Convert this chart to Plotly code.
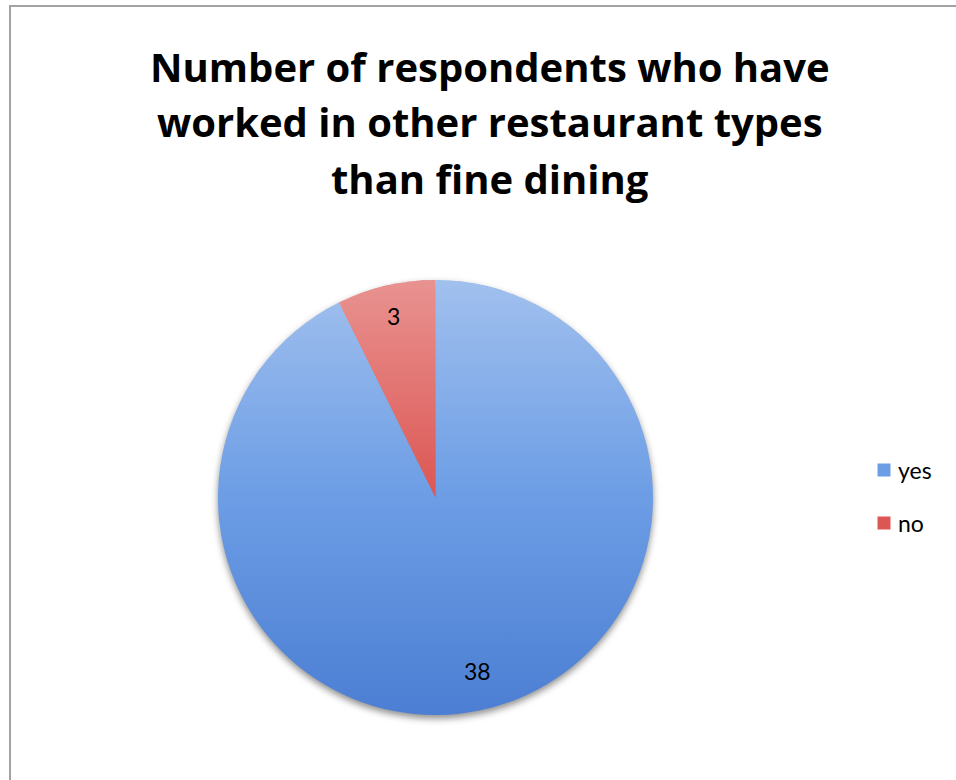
import base64
import math

import plotly.graph_objects as go

# ---- data -------------------------------------------------------------
TITLE_LINES = [
    "Number of respondents who have",
    "worked in other restaurant types",
    "than fine dining",
]
CATEGORIES = ["yes", "no"]
COUNTS = [38, 3]
SLICE_COLORS = ["#6c9de5", "#dc5653"]

# ---- page geometry (pixels) -------------------------------------------
W, H = 956, 780
PIE_CX, PIE_CY, PIE_R = 435.5, 497.5, 217.5
LABEL_R = 0.84          # data labels sit at this fraction of the radius
TEXT_LIFT = 4           # nudges annotation boxes so the glyphs sit on target
TITLE_X = 489.5
TITLE_BASELINES = [80.7, 136.0, 193.3]
TITLE_SIZE = 40
KEY_X, KEY_Y0, KEY_STEP, KEY_SIZE = 884, 470, 53, 13

TITLE_FONT = "'Open Sans', sans-serif"
FONT = "Lato, 'Open Sans', sans-serif"


def px_x(x):
    return x / W


def px_y(y):
    return 1 - y / H


def svg_uri(svg):
    return "data:image/svg+xml;base64," + base64.b64encode(svg.encode()).decode()


fig = go.Figure(
    go.Pie(
        labels=CATEGORIES,
        values=COUNTS,
        sort=False,
        direction="clockwise",
        rotation=0,
        marker=dict(colors=SLICE_COLORS, line=dict(width=0)),
        textinfo="none",
        hoverinfo="label+value",
        showlegend=False,
        domain=dict(
            x=[px_x(PIE_CX - PIE_R), px_x(PIE_CX + PIE_R)],
            y=[px_y(PIE_CY + PIE_R), px_y(PIE_CY - PIE_R)],
        ),
    )
)

annotations = []
shapes = []

# title, one line per annotation (Open Sans box centre ~0.39em above baseline)
for line, base in zip(TITLE_LINES, TITLE_BASELINES):
    cy = base - 0.388 * TITLE_SIZE + 1
    annotations.append(
        dict(
            x=px_x(TITLE_X), y=px_y(cy), xref="paper", yref="paper",
            xanchor="center", yanchor="middle", showarrow=False,
            text=f"<b>{line}</b>",
            font=dict(family=TITLE_FONT, size=TITLE_SIZE, color="#000000"),
        )
    )

# value labels placed on each slice's bisector
total = sum(COUNTS)
cum = 0
for v in COUNTS:
    mid = (cum + v / 2) / total * 2 * math.pi
    cum += v
    lx = PIE_CX + LABEL_R * PIE_R * math.sin(mid)
    ly = PIE_CY - LABEL_R * PIE_R * math.cos(mid) - TEXT_LIFT
    annotations.append(
        dict(
            x=px_x(lx), y=px_y(ly), xref="paper", yref="paper",
            xanchor="center", yanchor="middle", showarrow=False,
            text=str(v),
            font=dict(family=FONT, size=23, color="#000000"),
        )
    )

# legend: coloured key square plus category name
for i, (name, col) in enumerate(zip(CATEGORIES, SLICE_COLORS)):
    ky = KEY_Y0 + i * KEY_STEP
    shapes.append(
        dict(
            type="rect", xref="paper", yref="paper",
            x0=px_x(KEY_X - KEY_SIZE / 2), x1=px_x(KEY_X + KEY_SIZE / 2),
            y0=px_y(ky + KEY_SIZE / 2), y1=px_y(ky - KEY_SIZE / 2),
            fillcolor=col, line=dict(width=0),
        )
    )
    annotations.append(
        dict(
            x=px_x(KEY_X + 12), y=px_y(ky + 12 - 8.9 - TEXT_LIFT + 1),
            xref="paper", yref="paper",
            xanchor="left", yanchor="middle", showarrow=False,
            text=name,
            font=dict(family=FONT, size=23, color="#000000"),
        )
    )

# soft drop shadow under the pie and a vertical light-to-dark sheen over it
PAD = 20
side = 2 * PIE_R + 2 * PAD
shadow_svg = (
    f'<svg xmlns="http://www.w3.org/2000/svg" width="{side}" height="{side}" '
    f'viewBox="0 0 {side} {side}">'
    '<defs><filter id="b" x="-20%" y="-20%" width="140%" height="140%">'
    '<feGaussianBlur stdDeviation="3.5"/></filter></defs>'
    f'<circle cx="{side / 2}" cy="{side / 2 + 3.5}" r="{PIE_R}" fill="#000" '
    'fill-opacity="0.45" filter="url(#b)"/></svg>'
)
sheen_svg = (
    '<svg xmlns="http://www.w3.org/2000/svg" width="100" height="100" viewBox="0 0 100 100">'
    '<defs><linearGradient id="g" x1="0" y1="0" x2="0" y2="1">'
    '<stop offset="0" stop-color="#ffffff" stop-opacity="0.36"/>'
    '<stop offset="0.5" stop-color="#ffffff" stop-opacity="0"/>'
    '<stop offset="0.5" stop-color="#0037aa" stop-opacity="0"/>'
    '<stop offset="1" stop-color="#0037aa" stop-opacity="0.3"/>'
    '</linearGradient></defs>'
    '<circle cx="50" cy="50" r="50" fill="url(#g)"/></svg>'
)

images = [
    dict(
        source=svg_uri(shadow_svg), xref="paper", yref="paper",
        x=px_x(PIE_CX - PIE_R - PAD), y=px_y(PIE_CY - PIE_R - PAD),
        sizex=side / W, sizey=side / H, xanchor="left", yanchor="top",
        sizing="stretch", layer="below",
    ),
    dict(
        source=svg_uri(sheen_svg), xref="paper", yref="paper",
        x=px_x(PIE_CX - PIE_R), y=px_y(PIE_CY - PIE_R),
        sizex=2 * PIE_R / W, sizey=2 * PIE_R / H, xanchor="left", yanchor="top",
        sizing="stretch", layer="above",
    ),
]

# chart frame (runs off the right and bottom edges of the page)
shapes.append(
    dict(
        type="rect", xref="paper", yref="paper",
        x0=px_x(10), y0=px_y(6), x1=1.05, y1=-0.05,
        line=dict(color="#a3a3a3", width=2), fillcolor="rgba(0,0,0,0)",
        layer="below",
    )
)

fig.update_layout(
    width=W,
    height=H,
    autosize=False,
    margin=dict(l=0, r=0, t=0, b=0),
    paper_bgcolor="#ffffff",
    plot_bgcolor="#ffffff",
    font=dict(family=FONT, color="#000000"),
    showlegend=False,
    annotations=annotations,
    images=images,
    shapes=shapes,
)

fig.write_html("out.html")
